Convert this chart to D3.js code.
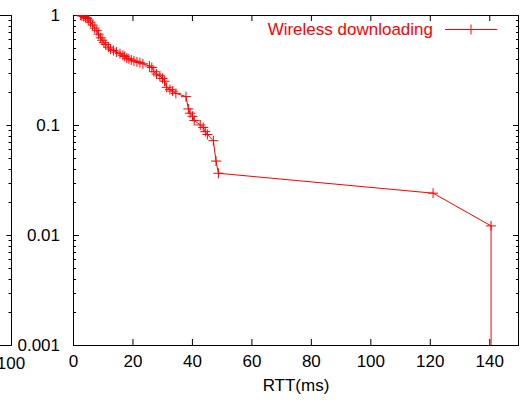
<!DOCTYPE html>
<html><head><meta charset="utf-8">
<script src="https://cdn.jsdelivr.net/npm/d3@7"></script>
<style>body{margin:0;background:#fff}svg{display:block}text{font-family:"Liberation Sans",Arial,sans-serif}</style>
</head><body><svg id="c" width="520" height="400"></svg>
<script>
const seriesName = "Wireless downloading";
const rtt = [2.5,3.0,3.6,4.2,4.8,5.3,5.9,6.6,7.3,8.0,8.6,9.3,9.8,10.4,11.0,11.9,12.6,13.6,14.6,15.8,16.8,17.4,18.1,18.8,19.6,20.5,21.5,22.5,23.5,25.7,26.5,27.2,28.1,29.2,30.1,30.8,31.5,32.6,33.5,34.6,38.0,38.8,39.4,40.2,40.8,42.8,43.8,44.5,45.2,47.2,48.1,48.9,121.1,140.6,140.6];
const frac = [1.0,0.98,0.97,0.95,0.93,0.90,0.86,0.81,0.76,0.72,0.67,0.62,0.59,0.56,0.54,0.51,0.49,0.475,0.46,0.445,0.43,0.42,0.405,0.40,0.39,0.382,0.375,0.369,0.36,0.344,0.333,0.305,0.29,0.28,0.265,0.25,0.22,0.21,0.203,0.194,0.181,0.14,0.128,0.12,0.11,0.10,0.095,0.087,0.082,0.072,0.047,0.0364,0.024,0.0121,0.0001];
const marked = rtt.map((d,i)=> i < rtt.length-1);
const xTicks = [0,20,40,60,80,100,120,140];
const yTicks = [0.001,0.01,0.1,1];
const yTickLabels = ["0.001","0.01","0.1","1"];
const xLabel = "RTT(ms)";
const prevPanelTickLabel = "100";

const svg = d3.select("#c");
const L=73, R=519, T=15, B=345;
const x = d3.scaleLinear().domain([0,150]).range([L,R]);
const y = d3.scaleLog().domain([0.001,1]).range([B,T]);
const red = "#ff0000";
const fs = 17;

// fragment of the neighbouring panel on the left
const px = 11;
const fr = svg.append("g").attr("stroke","#000").attr("stroke-width",1);
fr.append("path").attr("d",`M0,${T+0.5}H${px+0.5}V${B+0.5}H0`).attr("fill","none");
const minorVals = [];
for (let e=-3;e<0;e++) for (let m=1;m<10;m++) minorVals.push(m*Math.pow(10,e));
minorVals.push(1);
minorVals.forEach(v=>{
  const yy = Math.round(y(v))+0.5;
  const major = Math.abs(Math.log10(v)-Math.round(Math.log10(v)))<1e-9;
  fr.append("line").attr("x1",px+0.5).attr("x2",px+0.5-(major?5:3)).attr("y1",yy).attr("y2",yy);
});
svg.append("text").attr("x",px).attr("y",369).attr("text-anchor","middle").attr("font-size",fs).text(prevPanelTickLabel);

// main plot clip
svg.append("clipPath").attr("id","clip").append("rect").attr("x",L).attr("y",T).attr("width",R-L).attr("height",B-T);

// axes
const gx = svg.append("g").attr("transform",`translate(0,${B})`)
  .call(d3.axisBottom(x).tickValues(xTicks).tickSize(-6).tickSizeOuter(0).tickPadding(10));
gx.select(".domain").remove();
gx.selectAll("text").attr("font-size",fs).attr("fill","#000").attr("font-family","Liberation Sans, Arial, sans-serif");
const gxt = svg.append("g").attr("transform",`translate(0,${T})`)
  .call(d3.axisTop(x).tickValues(xTicks).tickSize(-6).tickSizeOuter(0).tickFormat(""));
gxt.select(".domain").remove();

const gy = svg.append("g").attr("transform",`translate(${L},0)`)
  .call(d3.axisLeft(y).tickValues(yTicks).tickSize(-6).tickSizeOuter(0).tickPadding(13).tickFormat((d,i)=>yTickLabels[i]));
gy.select(".domain").remove();
gy.selectAll("text").attr("font-size",fs).attr("fill","#000").attr("font-family","Liberation Sans, Arial, sans-serif");
const gyr = svg.append("g").attr("transform",`translate(${R},0)`)
  .call(d3.axisRight(y).tickValues(yTicks).tickSize(-6).tickSizeOuter(0).tickFormat(""));
gyr.select(".domain").remove();

// minor ticks
const mt = svg.append("g").attr("stroke","#000").attr("stroke-width",1);
minorVals.forEach(v=>{
  const major = Math.abs(Math.log10(v)-Math.round(Math.log10(v)))<1e-9;
  if (major) return;
  const yy = Math.round(y(v))+0.5;
  mt.append("line").attr("x1",L).attr("x2",L+3).attr("y1",yy).attr("y2",yy);
  mt.append("line").attr("x1",R).attr("x2",R-3).attr("y1",yy).attr("y2",yy);
});

// border
svg.append("rect").attr("x",L+0.5).attr("y",T+0.5).attr("width",R-L-1).attr("height",B-T)
  .attr("fill","none").attr("stroke","#000").attr("stroke-width",1);

// data
const pts = rtt.map((d,i)=>({x:d,y:frac[i],m:marked[i]}));
const line = d3.line().x(d=>x(d.x)).y(d=>y(d.y));
const pg = svg.append("g").attr("clip-path","url(#clip)");
pg.append("path").datum(pts).attr("d",line).attr("fill","none").attr("stroke",red).attr("stroke-width",1);
const cs = 5;
pg.selectAll("path.pt").data(pts.filter(d=>d.m)).join("path").attr("class","pt")
  .attr("d",d=>`M${x(d.x)-cs},${y(d.y)}H${x(d.x)+cs}M${x(d.x)},${y(d.y)-cs}V${y(d.y)+cs}`)
  .attr("stroke",red).attr("stroke-width",1).attr("fill","none");

// legend
svg.append("text").attr("x",433).attr("y",35).attr("text-anchor","end").attr("font-size",fs).attr("fill",red).text(seriesName);
svg.append("line").attr("x1",445).attr("x2",497).attr("y1",29.5).attr("y2",29.5).attr("stroke",red);
svg.append("path").attr("d",`M${471-cs},29.5H${471+cs}M471,${29.5-cs}V${29.5+cs}`).attr("stroke",red);

// x label
svg.append("text").attr("x",(L+R)/2).attr("y",391).attr("text-anchor","middle").attr("font-size",fs).text(xLabel);
</script></body></html>
